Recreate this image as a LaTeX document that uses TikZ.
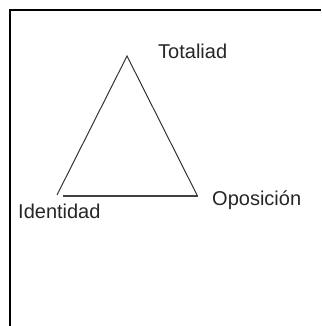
\documentclass[tikz,border=0pt]{standalone}
\usepackage{fontspec}
\setmainfont{Liberation Sans}
\tikzset{>=latex}
\tikzset{label text/.style={anchor=base west, inner sep=0pt, font=\fontsize{20}{24}\selectfont, text=black!85}}

\begin{document}
\begin{tikzpicture}[x=1pt,y=-1pt]
	\useasboundingbox (0,0) rectangle (321,326);
	\coordinate (frametop) at (321,10);
	\coordinate (framecorner) at (10,10);
	\coordinate (framebottom) at (10,326);
	\draw [line width=1.2pt] (frametop) -- (framecorner) -- (framebottom);
	\coordinate (top) at (127,56);
	\coordinate (left) at (57,195);
	\coordinate (bottomleft) at (63,196);
	\coordinate (right) at (197.5,196);
	\draw [line width=1pt, black!80] (left) -- (top) -- (right);
	\draw [line width=2pt, black!75] (bottomleft) -- (right);
	\node [label text] (totaliad) at (158,58.3) {Totaliad};
	\node [label text] (oposicion) at (212,205) {Oposición};
	\node [label text] (identidad) at (18,218.3) {Identidad};
\end{tikzpicture}
\end{document}
